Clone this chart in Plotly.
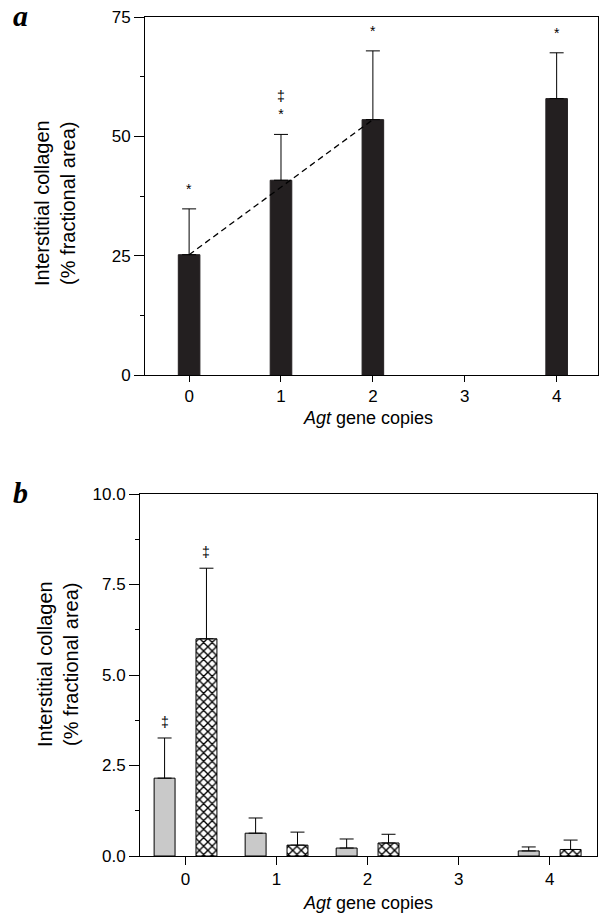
import plotly.graph_objects as go

# ---------------- data ----------------
copies_a = [0, 1, 2, 4]
collagen_a = [25.2, 40.8, 53.5, 57.9]
err_a = [9.6, 9.6, 14.4, 9.6]
marks_a = ["*", "‡<br>*", "*", "*"]

copies_b = [0, 1, 2, 4]
collagen_b_dotted = [2.15, 0.63, 0.22, 0.14]
err_b_dotted = [1.11, 0.42, 0.25, 0.11]
collagen_b_hatched = [6.0, 0.30, 0.36, 0.18]
err_b_hatched = [1.95, 0.36, 0.24, 0.26]
marks_b_dotted = ["‡", "", "", ""]
marks_b_hatched = ["‡", "", "", ""]

tick_vals_x = [0, 1, 2, 3, 4]
tick_vals_ya = [0, 25, 50, 75]
tick_vals_yb = [0, 2.5, 5.0, 7.5, 10.0]
tick_text_yb = ["0.0", "2.5", "5.0", "7.5", "10.0"]

# ---------------- figure ----------------
W, H = 600, 913
FONT = "Liberation Sans, Arial, sans-serif"
fig = go.Figure()

# dashed trend line (drawn first so bars cover it)
fig.add_trace(go.Scatter(
    x=[copies_a[0], copies_a[2]], y=[collagen_a[0], collagen_a[2]],
    mode="lines", line=dict(color="black", width=1.3, dash="6px,4px"),
    xaxis="x", yaxis="y", showlegend=False, hoverinfo="skip"))

fig.add_trace(go.Bar(
    x=copies_a, y=collagen_a, width=0.235,
    marker=dict(color="#231f20", line=dict(color="#231f20", width=1)),
    error_y=dict(type="data", array=err_a, arrayminus=[0]*len(err_a), symmetric=False,
                 color="black", thickness=1, width=7),
    xaxis="x", yaxis="y", showlegend=False))

BW = 0.23
OFF = 0.115
fig.add_trace(go.Bar(
    x=copies_b, y=collagen_b_dotted, width=BW, offset=-OFF - BW,
    marker=dict(color="white", line=dict(color="black", width=1),
                pattern=dict(shape=".", size=2, solidity=0.5, fgcolor="#9a9a9a", bgcolor="#eeeeee")),
    error_y=dict(type="data", array=err_b_dotted, arrayminus=[0]*4, symmetric=False,
                 color="black", thickness=1, width=7),
    xaxis="x2", yaxis="y2", showlegend=False))
fig.add_trace(go.Bar(
    x=copies_b, y=collagen_b_hatched, width=BW, offset=OFF,
    marker=dict(color="white", line=dict(color="black", width=1),
                pattern=dict(shape="x", size=6, solidity=0.4, fgcolor="black", bgcolor="white")),
    error_y=dict(type="data", array=err_b_hatched, arrayminus=[0]*4, symmetric=False,
                 color="black", thickness=1, width=7),
    xaxis="x2", yaxis="y2", showlegend=False))

annotations = []
MARKFONT = dict(size=14, family=FONT, color="black")
for xv, yv, ev, m in zip(copies_a, collagen_a, err_a, marks_a):
    if m:
        annotations.append(dict(x=xv, y=yv + ev, xref="x", yref="y", text=m, showarrow=False,
                                xanchor="center", yanchor="bottom", yshift=10, font=MARKFONT))
for xv, yv, ev, m in zip(copies_b, collagen_b_dotted, err_b_dotted, marks_b_dotted):
    if m:
        annotations.append(dict(x=xv - OFF - BW / 2, y=yv + ev, xref="x2", yref="y2", text=m,
                                showarrow=False, xanchor="center", yanchor="bottom", yshift=6,
                                font=MARKFONT))
for xv, yv, ev, m in zip(copies_b, collagen_b_hatched, err_b_hatched, marks_b_hatched):
    if m:
        annotations.append(dict(x=xv + OFF + BW / 2, y=yv + ev, xref="x2", yref="y2", text=m,
                                showarrow=False, xanchor="center", yanchor="bottom", yshift=6,
                                font=MARKFONT))

ytitle = "Interstitial collagen<br>(% fractional area)"
YTFONT = dict(size=20, family=FONT, color="black")
XTFONT = dict(size=18, family=FONT, color="black")
annotations += [
    dict(x=55 / W, y=1 - 203 / H, xref="paper", yref="paper", text=ytitle, textangle=-90,
         showarrow=False, xanchor="center", yanchor="middle", font=YTFONT),
    dict(x=58 / W, y=1 - 664 / H, xref="paper", yref="paper", text=ytitle, textangle=-90,
         showarrow=False, xanchor="center", yanchor="middle", font=YTFONT),
    dict(x=368 / W, y=1 - 418 / H, xref="paper", yref="paper", text="<i>Agt</i> gene copies",
         showarrow=False, xanchor="center", yanchor="middle", font=XTFONT),
    dict(x=368 / W, y=1 - 903 / H, xref="paper", yref="paper", text="<i>Agt</i> gene copies",
         showarrow=False, xanchor="center", yanchor="middle", font=XTFONT),
    dict(x=20 / W, y=1 - 16 / H, xref="paper", yref="paper", text="<b><i>a</i></b>",
         showarrow=False, xanchor="center", yanchor="middle",
         font=dict(size=30, family="Liberation Serif, serif", color="black")),
    dict(x=20 / W, y=1 - 492 / H, xref="paper", yref="paper", text="<b><i>b</i></b>",
         showarrow=False, xanchor="center", yanchor="middle",
         font=dict(size=30, family="Liberation Serif, serif", color="black")),
]

axis_common = dict(showline=True, linecolor="black", linewidth=1, mirror=True, showgrid=False,
                   zeroline=False, ticks="outside", tickcolor="black", automargin=False,
                   tickfont=dict(size=17, family=FONT, color="black"))

fig.update_layout(
    template="none",
    width=W, height=H, margin=dict(l=0, r=0, t=0, b=0, pad=0, autoexpand=False),
    paper_bgcolor="white", plot_bgcolor="white", showlegend=False,
    barmode="overlay",
    xaxis=dict(domain=[145 / W, 598 / W], range=[-0.48, 4.45], tickvals=tick_vals_x,
               ticklen=6, anchor="y", **axis_common),
    yaxis=dict(domain=[1 - 375 / H, 1 - 17 / H], range=[0, 75], tickvals=tick_vals_ya,
               ticklen=10, anchor="x",
               minor=dict(ticks="outside", ticklen=4, dtick=12.5, tickcolor="black", showgrid=False),
               **axis_common),
    xaxis2=dict(domain=[140 / W, 597 / W], range=[-0.5, 4.52], tickvals=tick_vals_x,
                ticklen=8, anchor="y2", **axis_common),
    yaxis2=dict(domain=[1 - 856 / H, 1 - 494 / H], range=[0, 10], tickvals=tick_vals_yb,
                ticktext=tick_text_yb, ticklen=10, anchor="x2",
                minor=dict(ticks="outside", ticklen=4, dtick=1.25, tickcolor="black", showgrid=False),
                **axis_common),
    annotations=annotations,
)

fig.write_html("out.html", config={"displayModeBar": False},
               post_script="document.body.style.margin='0';document.body.style.overflow='hidden';")
